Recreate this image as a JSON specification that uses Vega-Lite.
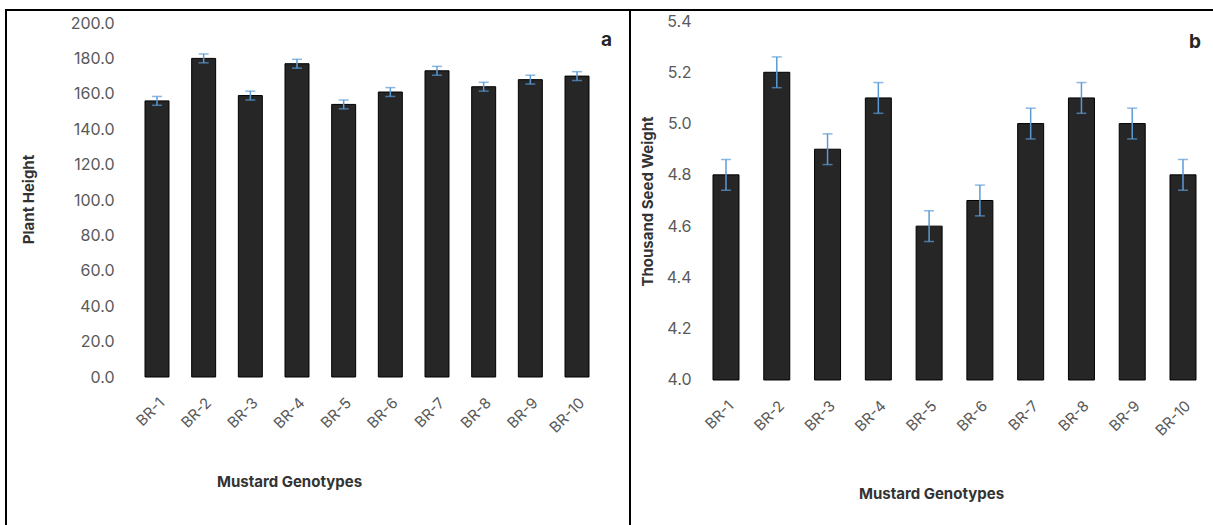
{
  "$schema": "https://vega.github.io/schema/vega-lite/v6.json",
  "padding": {"left": 5, "top": 9, "right": 0, "bottom": 0},
  "background": "white",
  "spacing": 0,
  "bounds": "flush",
  "config": {
    "view": {"stroke": "black", "strokeWidth": 2, "fill": "white"},
    "font": "Inter",
    "axis": {"labelFont": "Inter", "titleFont": "Inter", "labelColor": "#595959", "titleColor": "#333333", "grid": false, "ticks": false, "domain": false}
  },
  "datasets": {
    "plant": [
      {"genotype": "BR-1", "value": 156, "err": 2.5},
      {"genotype": "BR-2", "value": 180, "err": 2.5},
      {"genotype": "BR-3", "value": 159, "err": 2.5},
      {"genotype": "BR-4", "value": 177, "err": 2.5},
      {"genotype": "BR-5", "value": 154, "err": 2.5},
      {"genotype": "BR-6", "value": 161, "err": 2.5},
      {"genotype": "BR-7", "value": 173, "err": 2.5},
      {"genotype": "BR-8", "value": 164, "err": 2.5},
      {"genotype": "BR-9", "value": 168, "err": 2.5},
      {"genotype": "BR-10", "value": 170, "err": 2.5}
    ],
    "seed": [
      {"genotype": "BR-1", "value": 4.8, "err": 0.06},
      {"genotype": "BR-2", "value": 5.2, "err": 0.06},
      {"genotype": "BR-3", "value": 4.9, "err": 0.06},
      {"genotype": "BR-4", "value": 5.1, "err": 0.06},
      {"genotype": "BR-5", "value": 4.6, "err": 0.06},
      {"genotype": "BR-6", "value": 4.7, "err": 0.06},
      {"genotype": "BR-7", "value": 5.0, "err": 0.06},
      {"genotype": "BR-8", "value": 5.1, "err": 0.06},
      {"genotype": "BR-9", "value": 5.0, "err": 0.06},
      {"genotype": "BR-10", "value": 4.8, "err": 0.06}
    ],
    "one": [{}]
  },
  "hconcat": [
    {
      "width": 624,
      "height": 530,
      "title": {"text": "a", "anchor": "end", "frame": "group", "offset": -37, "dx": -18, "dy": 18, "fontSize": 19, "fontWeight": "bold", "color": "#262626", "baseline": "alphabetic", "font": "Inter"},
      "encoding": {
        "x": {
          "field": "genotype", "type": "nominal",
          "sort": ["BR-1","BR-2","BR-3","BR-4","BR-5","BR-6","BR-7","BR-8","BR-9","BR-10"],
          "scale": {"paddingInner": 0.486, "paddingOuter": 0, "range": [139, 583]},
          "axis": {"title": "Mustard Genotypes", "labelAngle": -45, "labelFontSize": 15, "offset": -163, "labelPadding": 18, "titleX": 283, "titleY": 104, "titleBaseline": "middle", "titleFontSize": 15, "titleFontWeight": "bold"}
        },
        "y": {
          "field": "value", "type": "quantitative",
          "scale": {"domain": [-92.09, 207.345], "nice": false, "zero": false},
          "axis": {"title": "Plant Height", "values": [0,20,40,60,80,100,120,140,160,180,200], "format": ".1f", "offset": -108, "labelPadding": 0, "labelFontSize": 16, "titleX": -86, "titleY": 189, "titleBaseline": "middle", "titleAngle": -90, "titleFontSize": 15, "titleFontWeight": "bold"}
        }
      },
      "layer": [
        {"data": {"name": "plant"}, "mark": {"type": "bar", "fill": "#262626", "stroke": "#000000", "strokeWidth": 1}, "encoding": {"y2": {"datum": 0}}},
        {"data": {"name": "plant"}, "mark": {"type": "errorbar", "ticks": true, "color": "#5b9bd5", "thickness": 1.5, "size": 10}, "encoding": {"yError": {"field": "err"}}},
        {"data": {"name": "one"}, "mark": {"type": "rule", "color": "#c8d0e0", "strokeWidth": 1}, "encoding": {"x": {"datum": "BR-1", "bandPosition": -0.47}, "x2": {"datum": "BR-10", "bandPosition": 1.47}, "y": {"datum": 0}}}
      ]
    },
    {
      "width": 600,
      "height": 530,
      "title": {"text": "b", "anchor": "end", "frame": "group", "offset": -38, "dx": -29, "dy": 19, "fontSize": 19, "fontWeight": "bold", "color": "#262626", "baseline": "alphabetic", "font": "Inter"},
      "encoding": {
        "x": {
          "field": "genotype", "type": "nominal",
          "sort": ["BR-1","BR-2","BR-3","BR-4","BR-5","BR-6","BR-7","BR-8","BR-9","BR-10"],
          "scale": {"paddingInner": 0.488, "paddingOuter": 0, "range": [83, 566]},
          "axis": {"title": "Mustard Genotypes", "labelAngle": -45, "labelFontSize": 15, "offset": -160, "labelPadding": 18, "titleX": 301, "titleY": 113, "titleBaseline": "middle", "titleFontSize": 15, "titleFontWeight": "bold"}
        },
        "y": {
          "field": "value", "type": "quantitative",
          "scale": {"domain": [3.376, 5.4429], "nice": false, "zero": false},
          "axis": {"title": "Thousand Seed Weight", "values": [4.0,4.2,4.4,4.6,4.8,5.0,5.2,5.4], "format": ".1f", "offset": -61, "labelPadding": 0, "labelFontSize": 16, "titleX": -44, "titleY": 191, "titleBaseline": "middle", "titleAngle": -90, "titleFontSize": 15, "titleFontWeight": "bold"}
        }
      },
      "layer": [
        {"data": {"name": "seed"}, "mark": {"type": "bar", "fill": "#262626", "stroke": "#000000", "strokeWidth": 1}, "encoding": {"y2": {"datum": 4.0}}},
        {"data": {"name": "seed"}, "mark": {"type": "errorbar", "ticks": true, "color": "#5b9bd5", "thickness": 1.5, "size": 10}, "encoding": {"yError": {"field": "err"}}},
        {"data": {"name": "one"}, "mark": {"type": "rule", "color": "#c8d0e0", "strokeWidth": 1}, "encoding": {"x": {"datum": "BR-1", "bandPosition": -0.47}, "x2": {"datum": "BR-10", "bandPosition": 1.47}, "y": {"datum": 4.0}}}
      ]
    }
  ]
}
